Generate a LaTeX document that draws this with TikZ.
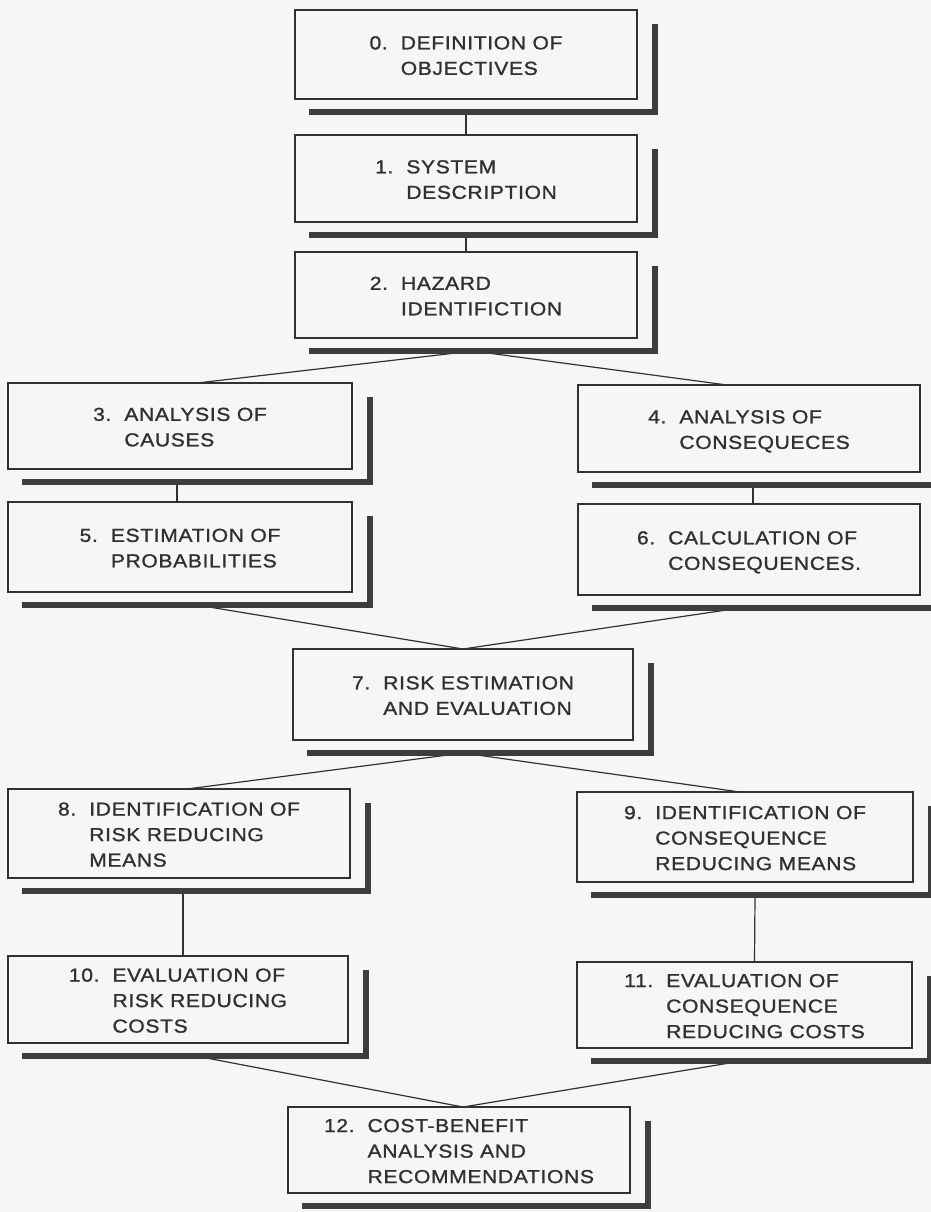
\documentclass[tikz,border=0pt]{standalone}
\usepackage{fontspec}
\newfontfamily\boxfont{Liberation Sans}[FakeStretch=1.12, LetterSpace=3.5, FakeBold=1.2]
\definecolor{ink}{RGB}{48,50,50}
\definecolor{shadowc}{RGB}{60,62,62}
\definecolor{bg}{RGB}{246,247,245}
\newcommand\boxshadow[1]{\draw[shade] ([xshift=14pt,yshift=-13pt]#1.south west) -- ([xshift=18pt,yshift=-13pt]#1.south east) -- ([xshift=18pt,yshift=-14pt]#1.north east);}
\newcommand\stagetext[2]{\raisebox{0pt}[\dimexpr\height+5pt\relax][\depth]{\begin{tabular}{@{}l@{\hspace{13pt}}l@{}}#1 & #2\end{tabular}}}
\tikzset{
  stage/.style={draw=ink, line width=1.3pt, rectangle, outer sep=0pt, inner sep=0pt,
    text=ink, font=\boxfont\fontsize{18.8}{25.5}\selectfont, align=left},
  conn/.style={draw=ink, line width=1.2pt},
  shade/.style={draw=shadowc, line width=5.5pt, line join=miter}
}
\begin{document}
\begin{tikzpicture}[x=1pt,y=-1pt]
\fill[bg] (0,0) rectangle (931,1212);
\useasboundingbox (0,0) rectangle (931,1212);
% boxes
\node[stage, minimum width=342pt, minimum height=89pt] (b0) at (466,54.5) {\stagetext{0.}{DEFINITION OF\\ & OBJECTIVES}};
\node[stage, minimum width=342pt, minimum height=87pt] (b1) at (466,178.5) {\stagetext{1.}{SYSTEM\\ & DESCRIPTION}};
\node[stage, minimum width=342pt, minimum height=86pt] (b2) at (466,295) {\stagetext{2.}{HAZARD\\ & IDENTIFICTION}};
\node[stage, minimum width=344pt, minimum height=86pt] (b3) at (180,426) {\stagetext{3.}{ANALYSIS OF\\ & CAUSES}};
\node[stage, minimum width=342pt, minimum height=87pt] (b4) at (749,428.5) {\stagetext{4.}{ANALYSIS OF\\ & CONSEQUECES}};
\node[stage, minimum width=344pt, minimum height=90pt] (b5) at (180,547) {\stagetext{5.}{ESTIMATION OF\\ & PROBABILITIES}};
\node[stage, minimum width=342pt, minimum height=91pt] (b6) at (749,549.5) {\stagetext{6.}{CALCULATION OF\\ & CONSEQUENCES.}};
\node[stage, minimum width=340pt, minimum height=91pt] (b7) at (463,694.5) {\stagetext{7.}{RISK ESTIMATION\\ & AND EVALUATION}};
\node[stage, minimum width=342pt, minimum height=89pt] (b8) at (179,833.5) {\stagetext{8.}{IDENTIFICATION OF\\ & RISK REDUCING\\ & MEANS}};
\node[stage, minimum width=336pt, minimum height=90pt] (b9) at (745,837) {\stagetext{9.}{IDENTIFICATION OF\\ & CONSEQUENCE\\ & REDUCING MEANS}};
\node[stage, minimum width=340pt, minimum height=87pt] (b10) at (178,999.5) {\stagetext{10.}{EVALUATION OF\\ & RISK REDUCING\\ & COSTS}};
\node[stage, minimum width=335pt, minimum height=86pt] (b11) at (744.5,1005) {\stagetext{11.}{EVALUATION OF\\ & CONSEQUENCE\\ & REDUCING COSTS}};
\node[stage, minimum width=342pt, minimum height=86pt] (b12) at (459,1150) {\stagetext{12.}{COST-BENEFIT\\ & ANALYSIS AND\\ & RECOMMENDATIONS}};
% connectors
\draw[conn] ([yshift=-13pt]b0.south) -- (b1.north);
\draw[conn] ([yshift=-13pt]b1.south) -- (b2.north);
\draw[conn] ([xshift=7pt,yshift=-13pt]b2.south) -- ([xshift=17pt]b3.north);
\draw[conn] ([xshift=7pt,yshift=-13pt]b2.south) -- ([xshift=-22pt]b4.north);
\draw[conn] ([xshift=-3pt,yshift=-13pt]b3.south) -- ([xshift=-3pt]b5.north);
\draw[conn] ([xshift=4pt,yshift=-13pt]b4.south) -- ([xshift=4pt]b6.north);
\draw[conn] ([xshift=17pt,yshift=-13pt]b5.south) -- (b7.north);
\draw[conn] ([xshift=-9pt,yshift=-13pt]b6.south) -- (b7.north);
\draw[conn] ([yshift=-13pt]b7.south) -- ([xshift=8pt]b8.north);
\draw[conn] ([yshift=-13pt]b7.south) -- ([xshift=-5pt]b9.north);
\draw[conn] ([xshift=4pt,yshift=-13pt]b8.south) -- ([xshift=5pt]b10.north);
\draw[conn] ([xshift=10pt,yshift=-13pt]b9.south) -- ([xshift=10pt]b11.north);
\draw[conn] ([xshift=18pt,yshift=-13pt]b10.south) -- ([xshift=4pt]b12.north);
\draw[conn] ([xshift=-3pt,yshift=-13pt]b11.south) -- ([xshift=4pt]b12.north);
% shadows
\foreach \b in {b0,b1,b2,b3,b4,b5,b6,b7,b8,b9,b10,b11,b12}{\boxshadow{\b}}
\end{tikzpicture}
\end{document}
